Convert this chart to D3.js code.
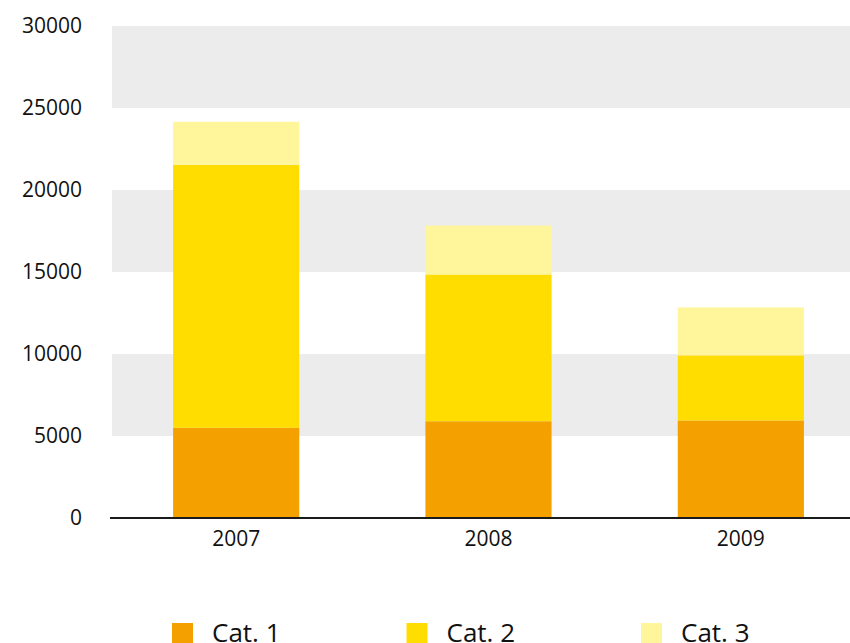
<!DOCTYPE html>
<html>
<head>
<meta charset="utf-8">
<script src="https://cdn.jsdelivr.net/npm/d3@7"></script>
<style>
  html, body { margin: 0; padding: 0; background: #fff; }
  svg { display: block; font-family: "Open Sans", "Noto Sans", sans-serif; }
</style>
</head>
<body>
<svg id="chart"></svg>
<script>
const years = ["2007", "2008", "2009"];
const categories = ["Cat. 1", "Cat. 2", "Cat. 3"];
const cat1 = [5500, 5900, 5950];
const cat2 = [16040, 8950, 3970];
const cat3 = [2620, 2980, 2920];
const yTicks = [0, 5000, 10000, 15000, 20000, 25000, 30000];
const colors = ["#f4a100", "#ffdd00", "#fff59b"];

const width = 850, height = 643;
const svg = d3.select("#chart").attr("width", width).attr("height", height);

const rows = years.map((year, i) => ({year, "Cat. 1": cat1[i], "Cat. 2": cat2[i], "Cat. 3": cat3[i]}));
const stacked = d3.stack().keys(categories)(rows);

const x = d3.scaleBand().domain(years).range([110, 867]).paddingInner(0.5).paddingOuter(0.25);
const y = d3.scaleLinear().domain([0, 30000]).range([518, 26]);

// grey bands between alternate ticks
const bands = [[5000, 10000], [15000, 20000], [25000, 30000]];
svg.append("g")
  .selectAll("rect")
  .data(bands)
  .enter().append("rect")
  .attr("x", 112)
  .attr("width", width - 112)
  .attr("y", d => y(d[1]))
  .attr("height", d => y(d[0]) - y(d[1]))
  .attr("fill", "#ebeceb");

svg.append("g")
  .selectAll("g")
  .data(stacked)
  .enter().append("g")
  .attr("fill", (d, i) => colors[i])
  .selectAll("rect")
  .data(d => d)
  .enter().append("rect")
  .attr("x", d => x(d.data.year))
  .attr("width", x.bandwidth())
  .attr("y", d => y(d[1]))
  .attr("height", d => y(d[0]) - y(d[1]));

// y axis labels
const yAxis = d3.axisLeft(y).tickValues(yTicks).tickSize(0).tickPadding(0).tickFormat(d3.format("d"));
svg.append("g")
  .attr("transform", "translate(82,0)")
  .call(yAxis)
  .call(g => g.select(".domain").remove())
  .selectAll("text")
  .attr("font-size", 21)
  .attr("font-family", "Open Sans, Noto Sans, sans-serif")
  .attr("fill", "#111")
  .attr("dy", "0.3em");

// x axis
const xAxis = d3.axisBottom(x).tickSize(0).tickPadding(13);
svg.append("g")
  .attr("transform", "translate(0," + y(0) + ")")
  .call(xAxis)
  .call(g => g.select(".domain").remove())
  .selectAll("text")
  .attr("font-size", 21)
  .attr("font-family", "Open Sans, Noto Sans, sans-serif")
  .attr("fill", "#111");

svg.append("line")
  .attr("x1", 110).attr("x2", width)
  .attr("y1", y(0)).attr("y2", y(0))
  .attr("stroke", "#1a1a1a")
  .attr("stroke-width", 2);

// legend
const legendX = d3.scalePoint().domain(categories).range([172, 641]);
const legend = svg.append("g")
  .selectAll("g")
  .data(categories)
  .enter().append("g")
  .attr("transform", d => "translate(" + legendX(d) + ",623)");

legend.append("rect")
  .attr("width", 21).attr("height", 21)
  .attr("fill", (d, i) => colors[i]);

legend.append("text")
  .attr("x", 40)
  .attr("y", 19)
  .attr("font-size", 26)
  .attr("fill", "#111")
  .text(d => d);
</script>
</body>
</html>
